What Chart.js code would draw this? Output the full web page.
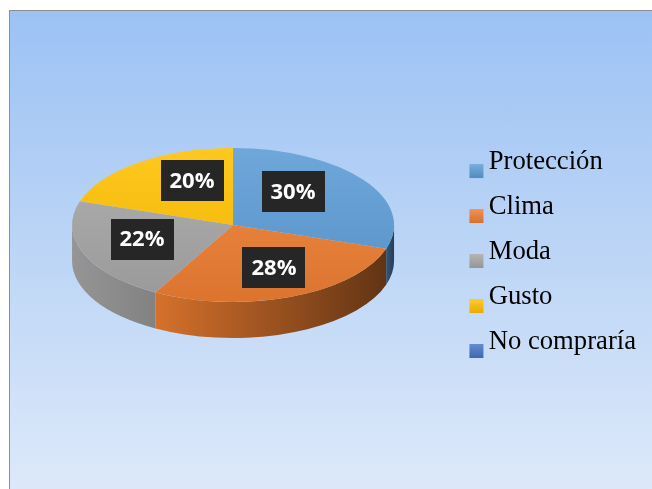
<!DOCTYPE html>
<html>
<head>
<meta charset="utf-8">
<script src="https://cdn.jsdelivr.net/npm/chart.js@4.4.1/dist/chart.umd.min.js"></script>
<style>
  html, body { margin: 0; padding: 0; background: #ffffff; width: 652px; height: 489px; overflow: hidden; }
  #panel {
    position: absolute; left: 9px; top: 10px; width: 643px; height: 479px;
    border-left: 1px solid #8e8e8e; border-top: 1px solid #8e8e8e;
    background: linear-gradient(180deg, #9cc2f4 0%, #bcd5f6 50%, #dde9fa 100%);
  }
  #c { position: absolute; left: 0; top: 0; }
</style>
</head>
<body>
<div id="panel"><canvas id="c" width="643" height="479"></canvas></div>
<script>
// Reasons for buying (share of answers, %)
const categories = ['Protección', 'Clima', 'Moda', 'Gusto', 'No compraría'];
const shares = [30, 28, 22, 20, 0];
const sliceColors = ['#5b9bd5', '#ed7d31', '#a5a5a5', '#ffc000', '#4472c4'];

// 3D look of the pie
const PIE_RADIUS = 161;   // px, horizontal radius of the top face
const TILT = 0.478;       // vertical squash of the top face
const DEPTH = 36;         // px, thickness of the pie wall
const LIFT = 0.75;        // how far the top face sits above the chart-area centre (x DEPTH)

function hexToRgb(h) {
  const n = parseInt(h.slice(1), 16);
  return [(n >> 16) & 255, (n >> 8) & 255, n & 255];
}
function shade(h, f) {
  const [r, g, b] = hexToRgb(h);
  return `rgb(${Math.round(r * f)},${Math.round(g * f)},${Math.round(b * f)})`;
}
function tint(h, t) {
  const [r, g, b] = hexToRgb(h);
  return `rgb(${Math.round(r + (255 - r) * t)},${Math.round(g + (255 - g) * t)},${Math.round(b + (255 - b) * t)})`;
}

// Legend swatches: small gradient squares, sitting on the text baseline
function makeSwatch(color) {
  const cv = document.createElement('canvas');
  cv.width = 24; cv.height = 36;
  const x = cv.getContext('2d');
  const gr = x.createLinearGradient(0, 20, 0, 34);
  gr.addColorStop(0, tint(color, 0.18));
  gr.addColorStop(1, shade(color, 0.9));
  x.fillStyle = gr;
  x.fillRect(9, 20, 14, 14);
  return cv;
}
const swatches = sliceColors.map(makeSwatch);

function pieGeometry(chart) {
  const arc = chart.getDatasetMeta(0).data[0];
  const rx = arc.outerRadius;
  return { ox: arc.x, oy: arc.y, cx: arc.x, cy: arc.y - DEPTH * LIFT, rx, ry: rx * TILT };
}

const pie3d = {
  id: 'pie3d',
  beforeDatasetsDraw(chart) {
    const ctx = chart.ctx;
    const g = pieGeometry(chart);
    const meta = chart.getDatasetMeta(0);
    const left = g.cx - g.rx;
    const light = x => 0.92 - 0.52 * (x - left) / (2 * g.rx);

    // front wall of every slice that faces the viewer
    meta.data.forEach((arc, i) => {
      if (!shares[i]) return;
      const a0 = Math.max(arc.startAngle, 0);
      const a1 = Math.min(arc.endAngle, Math.PI);
      if (a1 <= a0) return;
      const xl = g.cx + g.rx * Math.cos(a1);
      const xr = g.cx + g.rx * Math.cos(a0);
      const gr = ctx.createLinearGradient(xl, 0, xr, 0);
      gr.addColorStop(0, shade(sliceColors[i], Math.min(0.9, light(xl) + 0.15)));
      gr.addColorStop(1, shade(sliceColors[i], light(xr)));
      ctx.beginPath();
      ctx.ellipse(g.cx, g.cy, g.rx, g.ry, 0, a0, a1, false);
      ctx.ellipse(g.cx, g.cy + DEPTH, g.rx, g.ry, 0, a1, a0, true);
      ctx.closePath();
      ctx.fillStyle = gr;
      ctx.fill();
    });

    // squash the circular pie into the tilted top face
    ctx.save();
    ctx.translate(g.ox, g.cy);
    ctx.scale(1, TILT);
    ctx.translate(-g.ox, -g.oy);
  },
  afterDatasetsDraw(chart) {
    const ctx = chart.ctx;
    ctx.restore();
    const g = pieGeometry(chart);
    const meta = chart.getDatasetMeta(0);

    // percentage labels in dark boxes
    ctx.save();
    ctx.font = 'bold 22px "Open Sans"';
    ctx.textAlign = 'center';
    ctx.textBaseline = 'middle';
    meta.data.forEach((arc, i) => {
      if (!shares[i]) return;
      const mid = (arc.startAngle + arc.endAngle) / 2;
      const ux = Math.cos(mid), uy = Math.sin(mid);
      const x = g.cx + g.rx * ux * (0.55 + 0.15 * uy);
      const y = g.cy - 4 + g.ry * uy * 0.65;
      const text = shares[i] + '%';
      const w = Math.round(ctx.measureText(text).width + 18);
      const h = 41;
      ctx.fillStyle = '#262626';
      ctx.fillRect(Math.round(x - w / 2), Math.round(y - h / 2), w, h);
      ctx.fillStyle = '#ffffff';
      ctx.fillText(text, Math.round(x), Math.round(y) + 1);
    });
    ctx.restore();
  }
};

new Chart(document.getElementById('c'), {
  type: 'pie',
  data: {
    labels: categories,
    datasets: [{
      data: shares,
      radius: PIE_RADIUS,
      borderWidth: 0,
      clip: false,
      backgroundColor: c => {
        const base = sliceColors[c.dataIndex];
        const area = c.chart.chartArea;
        if (!area || c.dataIndex === undefined) return base;
        const cy = (area.top + area.bottom) / 2;
        const gr = c.chart.ctx.createLinearGradient(0, cy - PIE_RADIUS, 0, cy + PIE_RADIUS);
        gr.addColorStop(0, tint(base, 0.12));
        gr.addColorStop(1, shade(base, 0.93));
        return gr;
      }
    }]
  },
  options: {
    responsive: false,
    animation: false,
    events: [],
    layout: { padding: { left: 5, right: 7, top: 3, bottom: 0 } },
    plugins: {
      tooltip: { enabled: false },
      legend: {
        position: 'right',
        labels: {
          usePointStyle: true,
          pointStyleWidth: 6,
          padding: 18.3,
          color: '#000000',
          font: { family: '"Liberation Serif", "Times New Roman", serif', size: 26.67 },
          generateLabels: () => categories.map((t, i) => ({
            text: t,
            fillStyle: sliceColors[i],
            strokeStyle: sliceColors[i],
            lineWidth: 0,
            pointStyle: swatches[i],
            fontColor: '#000000',
            hidden: false,
            index: i
          }))
        }
      }
    }
  },
  plugins: [pie3d]
});
</script>
</body>
</html>
